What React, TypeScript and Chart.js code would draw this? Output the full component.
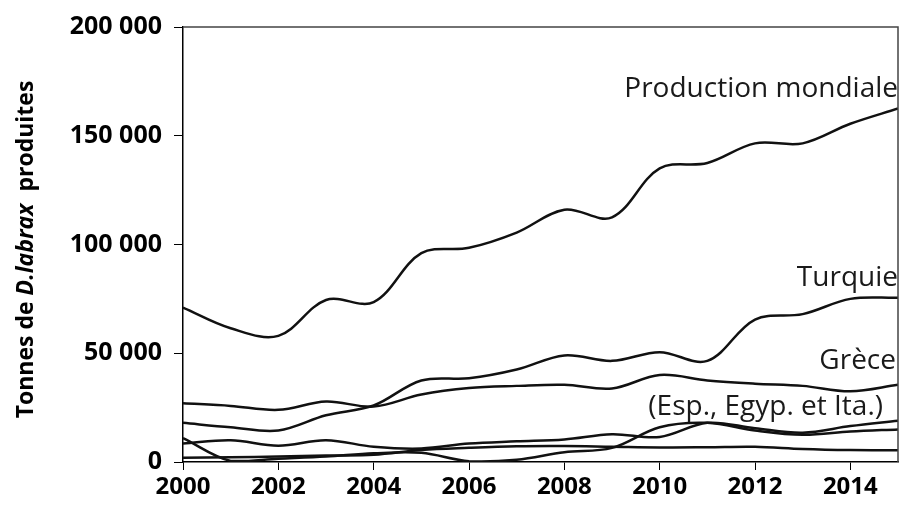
import React, { useEffect, useRef } from "react";
import { Chart, registerables } from "chart.js";

Chart.register(...registerables);

const years = [2000, 2001, 2002, 2003, 2004, 2005, 2006, 2007, 2008, 2009, 2010, 2011, 2012, 2013, 2014, 2015];
const production = [71000, 61500, 58000, 74500, 73500, 96000, 98500, 105500, 116000, 112500, 135000, 137500, 146500, 146500, 155500, 162500];
const turquie = [18000, 16000, 14500, 21500, 26000, 37500, 38500, 42500, 49000, 46500, 50500, 46500, 65500, 68000, 75000, 75500];
const grece = [27000, 25800, 24000, 27800, 25500, 31000, 34000, 35000, 35500, 33800, 40000, 37500, 36000, 35000, 32500, 35500];
const espagne = [8500, 10000, 7500, 10000, 7000, 6200, 8500, 9500, 10400, 12800, 11500, 18000, 15500, 13500, 16500, 19000];
const egypte = [11000, 500, 1500, 2500, 4000, 4200, 300, 1000, 4500, 6500, 16000, 18000, 14500, 12500, 14000, 15000];
const italie = [2000, 2200, 2500, 3000, 3300, 5500, 6500, 7200, 7300, 7000, 6700, 6800, 7000, 6000, 5500, 5400];

const seriesNames = ["Production mondiale", "Turquie", "Grèce", "Espagne", "Égypte", "Italie"];
const seriesValues = [production, turquie, grece, espagne, egypte, italie];

const labelTexts = ["Production mondiale", "Turquie", "Grèce", "(Esp., Egyp. et Ita.)"];
const labelValues = [171500, 84500, 46500, 25500];
const labelRightOffsets = [0, 0, 2, 15];

const yTitleParts = [
  { text: "Tonnes de ", italic: false },
  { text: "D.labrax", italic: true },
  { text: "  produites", italic: false },
];

const fmt = (v: number) => String(v).replace(/\B(?=(\d{3})+(?!\d))/g, " ");

const decorPlugin = {
  id: "decor",
  afterDraw(chart: any) {
    const { ctx, chartArea, scales } = chart;
    const y = scales.y;
    ctx.save();
    ctx.strokeStyle = "#444";
    ctx.lineWidth = 1.5;
    ctx.beginPath();
    ctx.moveTo(chartArea.left, chartArea.top);
    ctx.lineTo(chartArea.right, chartArea.top);
    ctx.lineTo(chartArea.right, chartArea.bottom);
    ctx.stroke();

    ctx.fillStyle = "#1a1a1a";
    ctx.font = "28px 'Open Sans'";
    ctx.textAlign = "right";
    ctx.textBaseline = "middle";
    labelTexts.forEach((t, i) => {
      ctx.fillText(t, chartArea.right - labelRightOffsets[i], y.getPixelForValue(labelValues[i]));
    });

    const size = 23;
    const fonts = yTitleParts.map((p) => `${p.italic ? "italic " : ""}bold ${size}px 'Open Sans'`);
    const widths = yTitleParts.map((p, i) => {
      ctx.font = fonts[i];
      return ctx.measureText(p.text).width;
    });
    const total = widths.reduce((a, b) => a + b, 0);
    const cx = 26;
    const cy = (chartArea.top + chartArea.bottom) / 2 + 5;
    ctx.translate(cx, cy);
    ctx.rotate(-Math.PI / 2);
    ctx.textAlign = "left";
    ctx.fillStyle = "#000";
    let xPos = -total / 2;
    yTitleParts.forEach((p, i) => {
      ctx.font = fonts[i];
      ctx.fillText(p.text, xPos, 0);
      xPos += widths[i];
    });
    ctx.restore();
  },
};

export default function App() {
  const ref = useRef<HTMLCanvasElement | null>(null);
  useEffect(() => {
    if (!ref.current) return;
    const chart = new Chart(ref.current, {
      type: "line",
      data: {
        datasets: seriesValues.map((vals, i) => ({
          label: seriesNames[i],
          data: years.map((yr, j) => ({ x: yr, y: vals[j] })),
          borderColor: "#111",
          borderWidth: 2.5,
          pointRadius: 0,
          tension: 0.35,
          fill: false,
        })),
      },
      options: {
        responsive: false,
        devicePixelRatio: 1,
        animation: false,
        layout: { padding: { top: 25, right: 2, left: 0, bottom: 0 } },
        plugins: { legend: { display: false }, tooltip: { enabled: false } },
        scales: {
          x: {
            type: "linear",
            min: 2000,
            max: 2015,
            ticks: {
              stepSize: 2,
              includeBounds: false,
              autoSkip: false,
              maxRotation: 0,
              padding: 3,
              color: "#000",
              font: { family: "'Open Sans'", weight: "bold", size: 24 },
              callback: (v: any) => String(v),
            },
            grid: { drawOnChartArea: false, drawTicks: true, tickLength: 8, color: "#000", tickWidth: 1 },
            border: { color: "#000", width: 1.5 },
            afterFit: (s: any) => {
              s.height = 48;
            },
          },
          y: {
            min: 0,
            max: 200000,
            ticks: {
              stepSize: 50000,
              padding: 12,
              color: "#000",
              font: { family: "'Open Sans'", weight: "bold", size: 25 },
              callback: (v: any) => fmt(Number(v)),
            },
            grid: { drawOnChartArea: false, drawTicks: true, tickLength: 9, color: "#000", tickWidth: 1 },
            border: { color: "#000", width: 1.5 },
            afterFit: (s: any) => {
              s.width = 183;
            },
          },
        },
      },
      plugins: [decorPlugin],
    });
    return () => chart.destroy();
  }, []);
  return (
    <div style={{ position: "fixed", left: 0, top: 0, width: 900, height: 510, background: "#fff" }}>
      <canvas ref={ref} width={900} height={510} />
    </div>
  );
}
